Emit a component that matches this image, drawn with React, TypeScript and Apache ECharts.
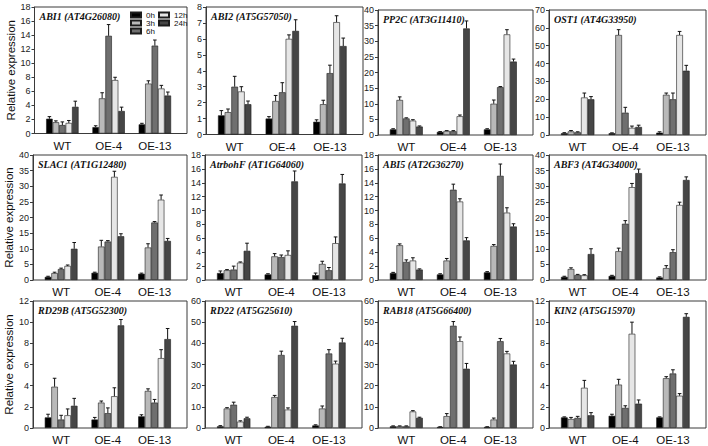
import { useEffect, useRef } from "react"
import * as echarts from "echarts"

const genotypes = ["WT", "OE-4", "OE-13"]
const timePoints = ["0h", "3h", "6h", "12h", "24h"]
const timeColors = ["#000000", "#b9b9b9", "#6f6f6f", "#e6e6e6", "#464646"]

// rows: WT, OE-4, OE-13 ; columns: 0h, 3h, 6h, 12h, 24h
const abi1Mean = [[2.1, 1.6, 1.2, 1.5, 3.8], [0.9, 5.0, 13.9, 7.6, 3.2], [1.3, 7.1, 12.5, 6.4, 5.4]]
const abi1Err = [[0.3, 0.2, 0.45, 0.35, 0.8], [0.2, 0.8, 1.6, 0.4, 0.55], [0.15, 0.4, 0.8, 0.45, 0.5]]
const abi2Mean = [[1.2, 1.4, 3.0, 2.7, 1.9], [1.0, 2.1, 2.65, 6.0, 6.5], [0.8, 1.9, 3.85, 7.05, 5.55]]
const abi2Err = [[0.3, 0.2, 0.65, 0.3, 0.2], [0.12, 0.35, 0.6, 0.25, 0.7], [0.12, 0.25, 0.5, 0.4, 0.5]]
const pp2cMean = [[1.8, 11.2, 5.3, 4.6, 2.7], [1.0, 1.3, 1.2, 6.0, 34.1], [1.8, 10.0, 15.3, 32.2, 23.5]]
const pp2cErr = [[0.2, 1.0, 0.2, 0.3, 0.2], [0.1, 0.1, 0.2, 0.4, 2.4], [0.2, 1.2, 0.2, 1.5, 0.8]]
const ost1Mean = [[1.0, 2.0, 1.5, 21.0, 20.0], [1.0, 56.0, 12.5, 4.0, 4.5], [1.3, 22.5, 20.0, 56.0, 36.0]]
const ost1Err = [[0.3, 0.5, 0.3, 2.5, 1.5], [0.2, 3.0, 3.0, 1.0, 1.0], [0.5, 1.0, 3.5, 2.0, 3.0]]
const slac1Mean = [[1.0, 2.2, 3.5, 4.5, 10.0], [2.3, 10.7, 12.3, 33.0, 14.0], [2.0, 10.4, 18.4, 25.7, 12.5]]
const slac1Err = [[0.2, 0.3, 0.3, 0.3, 2.0], [0.2, 2.0, 0.3, 1.8, 0.8], [0.2, 1.2, 0.3, 1.5, 0.8]]
const rbohfMean = [[1.0, 1.4, 1.5, 2.5, 4.2], [0.8, 3.4, 3.3, 3.6, 14.2], [0.7, 2.3, 1.4, 5.3, 13.9]]
const rbohfErr = [[0.3, 0.1, 0.5, 0.1, 1.1], [0.1, 0.4, 0.3, 0.6, 1.5], [0.3, 0.4, 0.4, 0.9, 1.3]]
const abi5Mean = [[1.0, 5.0, 2.6, 2.8, 1.5], [0.8, 2.8, 13.0, 11.3, 5.7], [1.1, 4.9, 15.0, 9.7, 7.7]]
const abi5Err = [[0.1, 0.2, 0.3, 0.4, 0.1], [0.1, 0.3, 0.8, 0.4, 0.4], [0.1, 0.2, 1.7, 0.7, 0.4]]
const abf3Mean = [[1.0, 3.5, 1.6, 1.5, 8.3], [1.3, 9.2, 18.0, 29.7, 34.2], [0.8, 3.8, 8.9, 24.0, 32.0]]
const abf3Err = [[0.2, 0.4, 0.2, 0.2, 1.7], [0.2, 1.0, 1.0, 1.2, 1.3], [0.2, 0.8, 0.8, 0.9, 1.0]]
const rd29bMean = [[1.0, 3.9, 0.8, 1.2, 2.1], [0.8, 2.4, 1.4, 3.0, 9.7], [1.1, 3.5, 2.4, 6.6, 8.4]]
const rd29bErr = [[0.3, 0.8, 0.4, 0.6, 0.7], [0.2, 0.15, 0.5, 0.8, 0.55], [0.15, 0.2, 0.3, 0.8, 1.0]]
const rd22Mean = [[0.8, 9.2, 11.0, 3.0, 4.6], [0.6, 14.6, 34.5, 8.7, 48.3], [1.2, 9.2, 35.2, 30.4, 40.4]]
const rd22Err = [[0.3, 0.4, 1.2, 0.4, 0.5], [0.2, 0.8, 1.8, 0.8, 2.0], [0.3, 1.2, 1.8, 1.2, 2.0]]
const rab18Mean = [[0.8, 0.8, 0.8, 7.8, 4.8], [0.5, 5.6, 48.3, 41.0, 28.0], [0.5, 4.0, 41.0, 35.2, 30.0]]
const rab18Err = [[0.2, 0.2, 0.2, 0.4, 0.3], [0.1, 1.2, 2.0, 2.0, 2.5], [0.1, 0.7, 1.3, 1.0, 1.5]]
const kin2Mean = [[1.0, 0.85, 0.95, 3.8, 1.2], [1.15, 4.1, 1.9, 8.9, 2.3], [1.0, 4.7, 5.15, 3.05, 10.5]]
const kin2Err = [[0.05, 0.15, 0.15, 0.7, 0.25], [0.15, 0.5, 0.2, 1.1, 0.35], [0.05, 0.15, 0.35, 0.2, 0.3]]

const geneTitles = [
  "ABI1 (AT4G26080)", "ABI2 (AT5G57050)", "PP2C (AT3G11410)", "OST1 (AT4G33950)",
  "SLAC1 (AT1G12480)", "AtrbohF (AT1G64060)", "ABI5 (AT2G36270)", "ABF3 (AT4G34000)",
  "RD29B (AT5G52300)", "RD22 (AT5G25610)", "RAB18 (AT5G66400)", "KIN2 (AT5G15970)",
]
const means = [abi1Mean, abi2Mean, pp2cMean, ost1Mean, slac1Mean, rbohfMean, abi5Mean, abf3Mean, rd29bMean, rd22Mean, rab18Mean, kin2Mean]
const errors = [abi1Err, abi2Err, pp2cErr, ost1Err, slac1Err, rbohfErr, abi5Err, abf3Err, rd29bErr, rd22Err, rab18Err, kin2Err]
const axisMax = [18, 8, 40, 70, 40, 18, 18, 40, 12, 60, 60, 12]
const axisStep = [2, 1, 5, 10, 5, 2, 2, 5, 2, 10, 10, 2]

// panel frames in px: [left, right, top, bottom]
const frames = [
  [34.5, 187, 7, 133.5], [206, 363, 7, 134.5], [378, 533, 10, 135], [549, 706, 10, 135],
  [33, 187, 155, 280], [205, 362, 155, 280], [378, 533, 155, 280], [549, 706, 155, 280],
  [33, 187, 301, 428], [205, 362, 301, 428], [378, 533, 301, 428], [549, 706, 301, 428],
]

const CAT_GAP = 0.3
const FONT = "'Liberation Sans', Arial, sans-serif"

export default function App() {
  const chartRef = useRef<HTMLDivElement>(null)

  useEffect(() => {
    if (!chartRef.current) return
    const chart = echarts.init(chartRef.current, undefined, { renderer: "svg" })

    const grid: any[] = []
    const xAxis: any[] = []
    const yAxis: any[] = []
    const series: any[] = []
    const title: any[] = []

    geneTitles.forEach((name, i) => {
      const [l, r, t, b] = frames[i]
      const w = r - l
      const h = b - t
      const frameIdx = 2 * i
      const dataIdx = 2 * i + 1

      // frame grid carries the y axis and the box
      grid.push({ left: l, top: t, width: w, height: h, show: true, borderColor: "#3a3a3a", borderWidth: 1, backgroundColor: "transparent" })
      // bar grid is a little narrower so the groups sit like the original
      grid.push({ left: l + 0.031 * w, top: t, width: 0.91 * w, height: h })

      xAxis.push({ gridIndex: frameIdx, type: "value", min: 0, max: 1, show: false })
      xAxis.push({
        gridIndex: dataIdx,
        type: "category",
        data: genotypes,
        axisLine: { show: false },
        axisTick: { show: false },
        axisLabel: { fontSize: 11.5, color: "#111", margin: 6, fontFamily: FONT },
      })
      yAxis.push({
        gridIndex: frameIdx,
        type: "value",
        min: 0,
        max: axisMax[i],
        interval: axisStep[i],
        axisLine: { show: true, lineStyle: { color: "#3a3a3a", width: 1 } },
        axisTick: { show: true, length: 3, lineStyle: { color: "#3a3a3a" } },
        axisLabel: { fontSize: 9, color: "#222", margin: 4, fontFamily: FONT },
        splitLine: { show: false },
        name: i % 4 === 0 ? "Relative expression" : "",
        nameLocation: "middle",
        nameGap: 16,
        nameTextStyle: { fontSize: 11.5, color: "#111", fontFamily: FONT },
      })
      yAxis.push({ gridIndex: dataIdx, type: "value", min: 0, max: axisMax[i], show: false })

      title.push({
        text: name,
        left: l + 5,
        top: t + 4,
        padding: 0,
        textStyle: { fontFamily: "'Liberation Serif', 'Times New Roman', serif", fontStyle: "italic", fontWeight: "bold", fontSize: 10, color: "#111" },
      })

      timePoints.forEach((tp, k) => {
        series.push({
          name: tp,
          type: "bar",
          xAxisIndex: dataIdx,
          yAxisIndex: dataIdx,
          data: genotypes.map((_, g) => means[i][g][k]),
          barGap: "0%",
          barCategoryGap: `${CAT_GAP * 100}%`,
          itemStyle: { color: timeColors[k], borderColor: "#1c1c1c", borderWidth: 0.6 },
        })
      })

      const errItems: number[][] = []
      genotypes.forEach((_, g) => {
        timePoints.forEach((_, k) => {
          errItems.push([g, k, means[i][g][k], errors[i][g][k]])
        })
      })
      series.push({
        type: "custom",
        xAxisIndex: dataIdx,
        yAxisIndex: dataIdx,
        encode: { x: 0, y: 2 },
        z: 3,
        data: errItems,
        renderItem: (_params: any, api: any) => {
          const g = api.value(0)
          const k = api.value(1)
          const v = api.value(2)
          const e = api.value(3)
          const band = api.size([1, 0])[0]
          const groupW = band * (1 - CAT_GAP)
          const barW = groupW / timePoints.length
          const x = api.coord([g, 0])[0] - groupW / 2 + barW * (k + 0.5)
          const y0 = api.coord([g, v])[1]
          const y1 = api.coord([g, v + e])[1]
          const cap = barW * 0.55
          const style = { stroke: "#111", lineWidth: 1 }
          return {
            type: "group",
            children: [
              { type: "line", shape: { x1: x, y1: y0, x2: x, y2: y1 }, style },
              { type: "line", shape: { x1: x - cap / 2, y1: y1, x2: x + cap / 2, y2: y1 }, style },
            ],
          }
        },
      })
    })

    const legendBase = {
      orient: "vertical",
      top: 11,
      itemWidth: 10,
      itemHeight: 5,
      itemGap: 0,
      icon: "rect",
      padding: 0,
      selectedMode: false,
      textStyle: { fontSize: 8, lineHeight: 7, color: "#111", fontFamily: FONT },
    }

    chart.setOption({
      animation: false,
      backgroundColor: "#ffffff",
      textStyle: { fontFamily: FONT },
      title,
      legend: [
        { ...legendBase, left: 130, data: ["0h", "3h", "6h"] },
        { ...legendBase, left: 158, data: ["12h", "24h"] },
      ],
      grid,
      xAxis,
      yAxis,
      series,
    })

    return () => {
      chart.dispose()
    }
  }, [])

  return (
    <div
      ref={chartRef}
      style={{ position: "absolute", left: 0, top: 0, width: 708, height: 446, background: "#fff" }}
    />
  )
}
